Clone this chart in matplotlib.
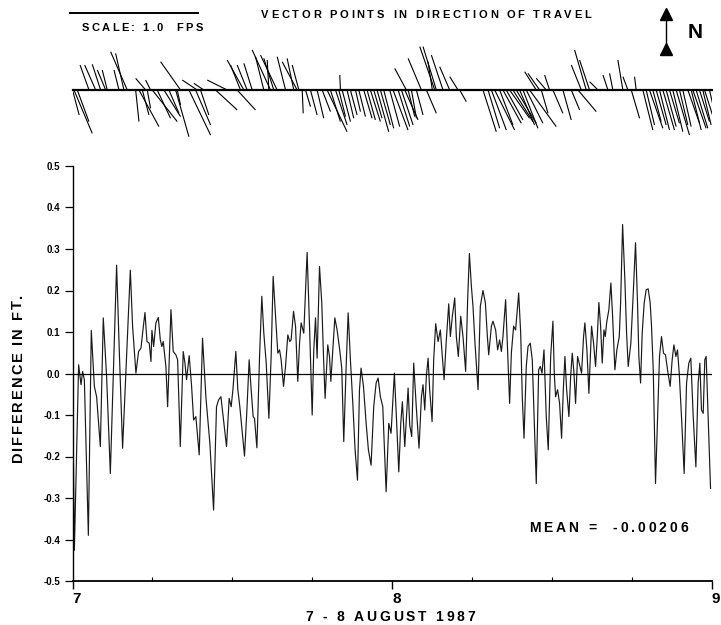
import matplotlib
matplotlib.use('Agg')
import matplotlib.pyplot as plt
import matplotlib.transforms as mtransforms
from matplotlib.collections import LineCollection
from matplotlib.ticker import MultipleLocator
from matplotlib.font_manager import findfont, FontProperties
from matplotlib.ft2font import FT2Font
import numpy as np

plt.rcParams['font.family'] = ['Liberation Sans', 'DejaVu Sans']
plt.rcParams['font.weight'] = 'bold'
plt.rcParams['axes.unicode_minus'] = False

# difference series, hours after 00:00 on 7 August 1987, value in ft
diff_hours = [
    0.00, 0.14, 0.46, 0.64, 0.76, 0.89, 1.19, 1.41, 1.64, 1.81,
    2.09, 2.31, 2.56, 2.84, 3.31, 3.51, 3.76, 4.34, 4.51, 4.76,
    4.96, 5.14, 5.26, 5.44, 5.59, 5.76, 5.89, 5.96, 6.09, 6.26,
    6.44, 6.59, 6.71, 6.81, 7.01, 7.14, 7.39, 7.56, 7.76, 7.89,
    8.09, 8.31, 8.44, 8.56, 8.76, 8.94, 9.09, 9.26, 9.51, 9.76,
    10.01, 10.31, 10.59, 10.81, 10.96, 11.14, 11.31, 11.56, 11.76,
    11.91, 12.04, 12.26, 12.41, 12.56, 12.91, 13.09, 13.26, 13.41, 13.56,
    13.66, 13.84, 14.04, 14.21, 14.36, 14.54, 14.74, 14.91, 15.06, 15.21,
    15.41, 15.54, 15.66, 15.84, 15.99, 16.16, 16.31, 16.41, 16.59, 16.74,
    16.91, 17.04, 17.16, 17.36, 17.61, 17.79, 17.99, 18.11, 18.24, 18.36,
    18.54, 18.71, 18.84, 18.96, 19.16, 19.29, 19.39, 19.51, 19.69, 19.86,
    20.04, 20.21, 20.36, 20.54, 20.69, 20.86, 21.04, 21.21, 21.39, 21.54,
    21.66, 21.84, 22.04, 22.21, 22.41, 22.61, 22.79, 22.94, 23.11, 23.29,
    23.54, 23.74, 23.91,
    24.16, 24.31, 24.49, 24.64, 24.76, 24.94, 25.19, 25.31, 25.46, 25.61,
    25.81, 26.01, 26.19, 26.31, 26.44, 26.56, 26.69, 26.81, 26.99, 27.11,
    27.26, 27.44, 27.61, 27.76, 27.89, 28.06, 28.24, 28.36, 28.51, 28.69,
    28.81, 28.96, 29.14, 29.31, 29.51, 29.66, 29.79, 29.94, 30.06, 30.21,
    30.44, 30.61, 30.81, 30.99, 31.14, 31.24, 31.44, 31.56, 31.76, 31.91,
    32.06, 32.19, 32.31, 32.51, 32.69, 32.81, 32.94, 33.11, 33.26, 33.49,
    33.64, 33.76, 33.89, 34.06, 34.19, 34.36, 34.51, 34.69, 34.81, 34.99,
    35.11, 35.24, 35.39, 35.56, 35.71, 35.89, 36.06,
    36.16, 36.26, 36.41, 36.56, 36.71, 36.84, 36.96, 37.09, 37.26, 37.39,
    37.51, 37.64, 37.76, 37.91, 38.09, 38.21, 38.36, 38.46, 38.61, 38.76,
    38.89, 38.96, 39.11, 39.26, 39.39, 39.51, 39.64, 39.76, 39.89, 39.99,
    40.09, 40.26, 40.41, 40.54, 40.71, 40.86, 41.04, 41.14, 41.29, 41.46,
    41.59, 41.71, 41.91, 42.09, 42.26, 42.41, 42.51, 42.64, 42.76, 42.91,
    43.06, 43.21, 43.36, 43.46, 43.59, 43.76, 43.91, 44.06, 44.21, 44.36,
    44.51, 44.66, 44.86, 45.01, 45.14, 45.29, 45.41, 45.54, 45.71, 45.91,
    46.09, 46.26, 46.41, 46.59, 46.79, 46.96, 47.09, 47.21, 47.34, 47.46,
    47.56, 47.71, 47.89,
]
diff_ft = [
    0.000, -0.426, 0.021, -0.027, 0.005, -0.015, -0.390, 0.104, -0.031, -0.056,
    -0.176, 0.134, -0.007, -0.241, 0.261, 0.057, -0.180, 0.249, 0.114, 0.001,
    0.053, 0.061, 0.097, 0.147, 0.077, 0.073, 0.029, 0.104, 0.065, 0.122,
    0.135, 0.081, 0.065, 0.077, 0.017, -0.080, 0.154, 0.053, 0.045, 0.033,
    -0.176, 0.053, 0.025, -0.015, 0.043, -0.031, -0.112, -0.104, -0.196, 0.085,
    -0.056, -0.168, -0.329, -0.080, -0.064, -0.056, -0.104, -0.176, -0.060,
    -0.080, -0.039, 0.053, -0.039, -0.080, -0.199, -0.088, 0.033, -0.039, -0.104,
    -0.108, -0.179, 0.041, 0.186, 0.097, 0.025, -0.108, 0.041, 0.234, 0.154,
    0.049, 0.057, 0.033, -0.031, 0.017, 0.093, 0.077, 0.081, 0.150, 0.114,
    -0.019, 0.073, 0.122, 0.097, 0.292, 0.114, -0.100, 0.057, 0.134, 0.037,
    0.258, 0.170, 0.041, -0.060, 0.069, 0.041, -0.019, 0.041, 0.134, 0.105,
    0.061, 0.013, -0.164, 0.017, 0.146, 0.033, -0.072, -0.184, -0.257, -0.039,
    0.013, -0.031, -0.120, -0.184, -0.221, -0.080, -0.023, -0.011, -0.056, -0.080,
    -0.285, -0.120, -0.144,
    0.001, -0.104, -0.237, -0.120, -0.068, -0.176, -0.035, -0.124, -0.152, 0.025,
    -0.084, -0.180, -0.056, -0.027, -0.088, -0.007, 0.037, -0.039, -0.116, 0.033,
    0.120, 0.077, 0.105, 0.041, -0.015, 0.081, 0.168, 0.089, 0.138, 0.182,
    0.089, 0.041, 0.138, 0.089, 0.005, 0.178, 0.289, 0.210, 0.162, 0.073,
    -0.039, 0.162, 0.200, 0.170, 0.089, 0.045, 0.114, 0.126, 0.105, 0.057,
    0.081, 0.053, 0.089, 0.178, 0.025, -0.072, 0.049, 0.114, 0.105, 0.194,
    0.097, -0.056, -0.156, 0.017, 0.065, 0.073, 0.033, -0.144, -0.265, 0.009,
    0.017, 0.001, 0.057, -0.104, -0.184, 0.041, 0.126,
    0.001, -0.056, -0.039, -0.072, -0.156, -0.039, 0.041, -0.039, -0.104, -0.007,
    0.049, 0.001, -0.072, 0.041, 0.017, 0.001, 0.089, 0.122, 0.057, -0.048,
    0.057, 0.114, 0.073, 0.017, 0.089, 0.171, 0.114, 0.025, 0.105, 0.089,
    0.122, 0.154, 0.218, 0.138, 0.009, 0.057, 0.089, 0.170, 0.359, 0.226,
    0.097, 0.017, 0.073, 0.194, 0.315, 0.170, 0.041, -0.023, 0.097, 0.170,
    0.202, 0.204, 0.170, 0.114, 0.009, -0.265, -0.112, 0.041, 0.089, 0.049,
    0.045, 0.009, -0.031, 0.033, 0.069, 0.041, 0.057, 0.001, -0.104, -0.241,
    -0.023, 0.025, 0.037, -0.104, -0.225, -0.023, 0.025, -0.088, -0.096, 0.033,
    0.041, -0.104, -0.277,
]

# current vectors (fps): time in hours, east and north components
stick_hours = [
    0.00, 0.11, 0.36, 1.24, 1.74, 2.11, 2.49, 2.61, 3.49, 3.86,
    4.11, 4.74, 4.99, 5.49, 5.61, 5.86, 5.99, 6.86, 7.74, 7.86,
    8.11, 8.74, 9.24, 9.36, 9.61, 9.86, 10.74, 11.61, 12.36, 12.61,
    12.86, 13.11, 13.49, 14.36, 14.74, 14.86, 15.36, 15.99, 16.86, 16.99,
    17.24, 17.49, 18.36, 18.74, 19.11, 19.74, 20.11, 20.24, 20.86, 21.24,
    21.86, 22.36, 22.86, 23.36, 23.81, 24.06, 24.44, 24.94, 25.06, 25.44,
    26.19, 26.56, 27.01, 27.19, 27.31, 27.81, 28.31, 28.94, 29.06, 30.81,
    31.19, 31.69, 32.31, 32.81, 33.31, 33.81, 34.31, 34.81, 35.06, 35.19,
    35.56, 35.81, 36.06, 36.81, 37.44, 37.94, 38.19, 38.56, 38.81, 39.44,
    40.19, 40.56, 41.31, 41.69, 41.94, 42.31, 42.81, 43.31, 43.81, 44.31,
    44.81, 45.31, 45.81, 46.19, 46.56, 47.06, 47.44,
    17.86, 19.36, 19.99, 20.61, 21.49, 22.11, 22.61, 23.11, 43.06, 43.56,
    44.06, 44.56, 45.06, 45.56, 46.44, 46.81, 47.31, 47.81, 24.69, 25.19,
    25.81, 31.44, 32.06, 32.56, 33.06, 33.56, 34.06, 5.24, 6.36, 7.24,
    15.11, 16.61,
]
stick_east = [
    0.052, 0.143, 0.091, -0.070, -0.086, -0.065, -0.065, -0.039, -0.039, -0.065,
    -0.130, 0.026, 0.156, -0.078, 0.026, -0.039, 0.195, 0.130, 0.104, 0.026,
    -0.156, 0.169, 0.117, -0.117, 0.065, -0.078, 0.169, -0.156, 0.143, -0.078,
    -0.130, -0.078, -0.065, -0.065, -0.013, -0.143, -0.130, -0.065, -0.117, -0.052,
    0.008, 0.039, 0.052, 0.065, 0.156, 0.091, -0.005, 0.065, 0.052, 0.039,
    0.065, 0.078, 0.091, 0.078, 0.078, 0.117, 0.091, 0.104, -0.091, 0.039,
    -0.104, 0.078, -0.034, -0.117, -0.104, -0.091, -0.078, -0.065, 0.052, 0.104,
    0.091, 0.156, 0.143, 0.156, 0.156, 0.117, 0.208, -0.091, -0.091, 0.052,
    -0.078, -0.039, 0.078, 0.065, 0.065, 0.143, -0.078, -0.091, -0.078, -0.065,
    -0.039, -0.026, -0.039, -0.039, 0.065, -0.013, 0.078, 0.104, 0.078, 0.091,
    0.078, 0.104, 0.065, 0.091, 0.104, 0.078, 0.104,
    0.052, 0.078, 0.052, 0.052, 0.052, 0.065, 0.065, 0.078, 0.065, 0.065,
    0.078, 0.078, 0.078, 0.065, 0.078, 0.091, 0.065, 0.078, 0.091, 0.052,
    0.052, 0.117, 0.104, 0.130, 0.156, 0.117, 0.130, 0.052, 0.104, 0.078,
    -0.078, -0.052,
]
stick_north = [
    -0.195, -0.339, -0.247, 0.195, 0.195, 0.201, 0.156, 0.156, 0.156, 0.286,
    0.299, -0.247, -0.286, 0.091, -0.143, 0.078, -0.247, -0.208, -0.365, -0.117,
    0.221, -0.352, -0.273, 0.078, -0.195, 0.052, -0.156, 0.078, -0.156, 0.195,
    0.234, 0.195, 0.208, 0.260, 0.234, 0.313, 0.273, 0.260, 0.221, 0.195,
    -0.182, -0.130, -0.221, -0.169, -0.326, -0.273, 0.117, -0.247, -0.195, -0.169,
    -0.221, -0.247, -0.326, -0.299, -0.286, -0.313, -0.286, -0.234, 0.169, -0.221,
    0.247, -0.182, 0.221, 0.339, 0.339, 0.273, 0.182, 0.104, -0.091, -0.326,
    -0.299, -0.313, -0.260, -0.221, -0.260, -0.299, -0.286, 0.143, 0.130, -0.182,
    0.091, 0.117, -0.182, -0.234, -0.156, -0.169, 0.195, 0.313, 0.234, 0.065,
    0.117, 0.130, 0.234, 0.104, -0.221, 0.104, -0.313, -0.299, -0.273, -0.313,
    -0.260, -0.352, -0.286, -0.260, -0.299, -0.247, -0.326,
    -0.195, -0.247, -0.208, -0.221, -0.208, -0.234, -0.221, -0.273, -0.273, -0.247,
    -0.313, -0.286, -0.326, -0.273, -0.313, -0.299, -0.273, -0.339, -0.273, -0.208,
    -0.195, -0.313, -0.273, -0.234, -0.247, -0.273, -0.260, -0.195, -0.221, -0.182,
    0.247, 0.247,
]
mean_diff = -0.00206

W, H = 721, 625
fig = plt.figure(figsize=(W / 100, H / 100), dpi=100)

BOLD = FontProperties(family='Liberation Sans', weight='bold')
_font = FT2Font(findfont(BOLD))


def spaced_text(x, y, s, size, track, ha='center', vertical=False):
    # no letter spacing in matplotlib, so the letters are laid out one by one
    # x, y: pixels from the top-left corner, y is the baseline
    _font.set_size(size, 100)
    adv = [_font.load_char(ord(c)).linearHoriAdvance / 65536 for c in s]
    total = sum(adv) + track * (len(s) - 1)
    pos = -{'left': 0, 'center': total / 2, 'right': total}[ha]
    for c, a in zip(s, adv):
        if vertical:
            fig.text(x / W, 1 - (y - pos) / H, c, fontproperties=BOLD, fontsize=size,
                     rotation=90, rotation_mode='anchor', ha='left', va='baseline')
        else:
            fig.text((x + pos) / W, 1 - y / H, c, fontproperties=BOLD, fontsize=size,
                     ha='left', va='baseline')
        pos += a + track


# main difference plot
ax = fig.add_axes([72.5 / W, 44 / H, 639.5 / W, 415 / H])
t_days = 7 + np.array(diff_hours) / 24
ax.plot(t_days, diff_ft, color='#1a1a1a', lw=0.85)
ax.axhline(0, color='black', lw=0.9)
ax.set_xlim(7, 9)
ax.set_ylim(-0.5, 0.5)
for s in ['top', 'right']:
    ax.spines[s].set_visible(False)
ax.spines['left'].set_linewidth(1.0)
ax.spines['bottom'].set_linewidth(1.3)
yt = np.round(np.arange(-0.5, 0.51, 0.1), 1) + 0.0
ax.set_yticks(yt)
ax.set_yticklabels([f'{v:.1f}' for v in yt])
ax.set_xticks([7, 8, 9])
ax.set_xticklabels(['7', '8', '9'])
ax.xaxis.set_minor_locator(MultipleLocator(0.25))
ax.tick_params(axis='y', direction='out', length=6, width=0.9, labelsize=7, pad=3)
ax.tick_params(axis='x', which='major', direction='out', length=6, width=1.0,
               labelsize=11, pad=2)
ax.tick_params(axis='x', which='minor', direction='in', length=3, width=0.8)
shift = mtransforms.ScaledTranslation(3 / 72, 0, fig.dpi_scale_trans)
for lab in ax.get_xticklabels():
    lab.set_transform(lab.get_transform() + shift)

spaced_text(390, 621, '7 - 8 AUGUST 1987', 10, 2.8)
spaced_text(22, 378, 'DIFFERENCE IN FT.', 10.5, 1.9, vertical=True)
spaced_text(529, 532, f'MEAN =  {mean_diff:.5f}', 10, 2.9, ha='left')

# stick plot of current vectors
ax_top = fig.add_axes([72.5 / W, 475 / H, 639.5 / W, 150 / H])
ax_top.set_xlim(7, 9)
ax_top.set_ylim(-60 / 128, 90 / 128)
ax_top.axis('off')
days_per_fps = 2 * 128 / 639.5   # keep the sticks isotropic: 1 fps = 128 px
st = 7 + np.array(stick_hours) / 24
segs = [[(t, 0), (t + u * days_per_fps, v)]
        for t, u, v in zip(st, stick_east, stick_north)]
ax_top.add_collection(LineCollection(segs, colors='black', linewidths=0.8))
ax_top.plot([7, 9], [0, 0], color='black', lw=1.6, clip_on=False)

# scale bar 1.0 fps
ax_top.plot([7 - 0.008, 7 - 0.008 + days_per_fps], [0.60, 0.60], color='black',
            lw=1.4, clip_on=False)
spaced_text(142, 31, 'SCALE: 1.0  FPS', 8, 2.4)
spaced_text(426, 18, 'VECTOR POINTS IN DIRECTION OF TRAVEL', 8, 2.7)

# north arrow
xn = 666 / W
fig.add_artist(plt.Line2D([xn, xn], [1 - 18 / H, 1 - 46 / H], color='black', lw=1.0))
fig.add_artist(plt.Line2D([xn], [1 - 14 / H], marker='^', markersize=8, color='black'))
fig.add_artist(plt.Line2D([xn], [1 - 49 / H], marker='^', markersize=8, color='black'))
fig.text(695 / W, 1 - 32 / H, 'N', fontsize=15, fontweight='bold', ha='center',
         va='center')

fig.savefig('out.png', dpi=100)
